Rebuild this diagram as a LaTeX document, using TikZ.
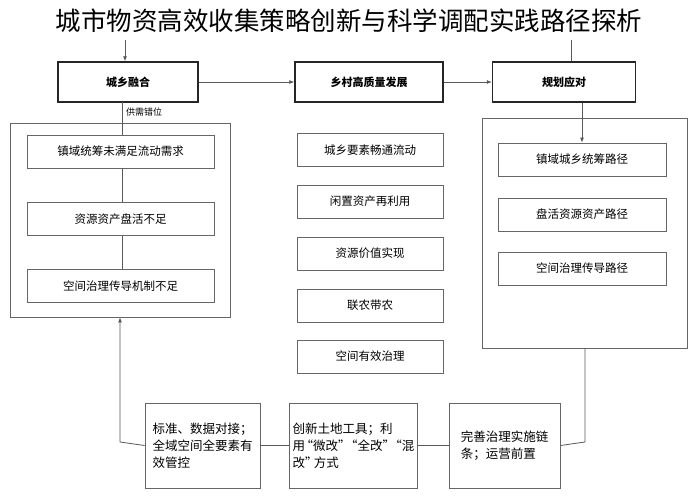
\documentclass[tikz,border=0pt]{standalone}
\usepackage{fontspec}
\setmainfont{Noto Sans CJK SC}
\usetikzlibrary{arrows.meta}
\begin{document}
\begin{tikzpicture}[x=1pt,y=-1pt,
  hdr/.style={draw=black!85,line width=1.4pt,minimum width=142pt,minimum height=40pt,font=\fontsize{11}{13}\selectfont\bfseries},
  ib/.style={draw=black!60,line width=0.8pt,fill=white,minimum height=33pt,font=\fontsize{11.5}{13}\selectfont},
  panel/.style={draw=black!60,line width=0.8pt},
  bb/.style={draw=black!60,line width=0.8pt,minimum height=85pt,align=left,font=\fontsize{12.5}{17}\selectfont},
  ln/.style={draw=black!65,line width=0.8pt},
  arr/.style={ln,-{Latex[length=5pt,width=4pt]}}]
\useasboundingbox (0,0) rectangle (698,500);
\node (title) at (349,21) {\fontsize{25.5}{28}\selectfont 城市物资高效收集策略创新与科学调配实践路径探析};
% headers
\node[hdr,minimum width=140pt] (h1) at (128,82) {城乡融合};
\node[hdr,minimum width=148pt] (h2) at (369,82) {乡村高质量发展};
\node[hdr,minimum width=143pt] (h3) at (564,82) {规划应对};
\coordinate (t1) at (125,40);
\coordinate (t3) at (571,40);
\draw[arr] (t1) -- (t1|-h1.north);
\draw[ln] (t3) -- (t3|-h3.north);
\draw[arr] (h1) -- (h2);
\draw[arr] (h2) -- (h3);
% left panel
\node[panel,minimum width=220pt,minimum height=194pt] (lp) at (120,220) {};
\coordinate (lx) at (122,102);
\node[ib,minimum width=187pt] (l1) at (120.5,151.5) {镇域统筹未满足流动需求};
\node[ib,minimum width=187pt] (l2) at (120.5,219) {资源资产盘活不足};
\node[ib,minimum width=187pt] (l3) at (120.5,286) {空间治理传导机制不足};
\draw[ln] (lx) -- (lx|-l1.north);
\draw[ln] (lx|-l1.south) -- (lx|-l2.north);
\draw[ln] (lx|-l2.south) -- (lx|-l3.north);
\node[anchor=west,font=\fontsize{9}{10}\selectfont,fill=white,inner sep=1pt] (lbl) at (125,112) {供需错位};
% middle
\node[ib,minimum width=146pt] (m1) at (370,150) {城乡要素畅通流动};
\node[ib,minimum width=146pt] (m2) at (370,201.5) {闲置资产再利用};
\node[ib,minimum width=146pt] (m3) at (370,253.5) {资源价值实现};
\node[ib,minimum width=146pt] (m4) at (370,305.5) {联农带农};
\node[ib,minimum width=146pt] (m5) at (370,356.5) {空间有效治理};
% right panel
\node[panel,minimum width=205pt,minimum height=230pt] (rp) at (584.5,233) {};
\node[ib,minimum width=168pt] (r1) at (582,159.5) {镇域城乡统筹路径};
\node[ib,minimum width=168pt] (r2) at (582,214.5) {盘活资源资产路径};
\node[ib,minimum width=168pt] (r3) at (582,268.5) {空间治理传导路径};
\draw[arr] (h3.south-|r1.north) -- (r1.north);
% bottom
\node[bb,minimum width=115pt] (b1) at (202.5,445.5) {标准、数据对接；\\全域空间全要素有\\效管控};
\node[bb,minimum width=127pt] (b2) at (353.5,445.5) {创新土地工具；利\\用\kern-.35em“微改”\kern-.45em“全改”\kern-.45em“混\\改”\kern-.3em方式};
\node[bb,minimum width=111pt] (b3) at (504.5,445.5) {完善治理实施链\\条；运营前置};
\coordinate (rb) at (585,442);
\draw[ln] (rp.south-|rb) -- (rb) -- (b3.east);
\draw[ln] (b3) -- (b2);
\draw[ln] (b2) -- (b1);
\coordinate (lb) at (120,442);
\draw[arr] (b1.west) -- (lb) -- (lb|-lp.south);
\end{tikzpicture}
\end{document}
